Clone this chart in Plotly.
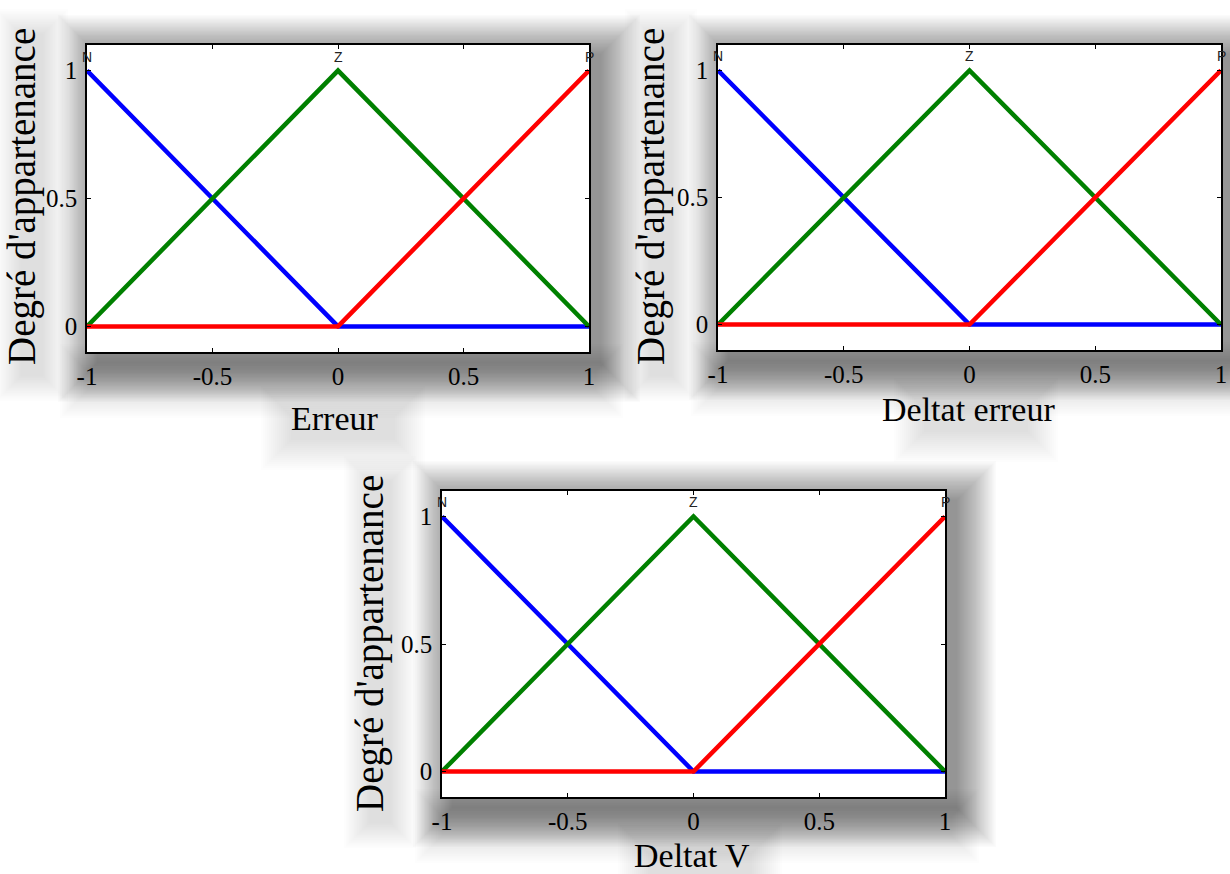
import plotly.graph_objects as go

W, H = 1230, 874

# ---- data ----
x_pts = [-1, 0, 1]
mf_N = [1, 0, 0]
mf_Z = [0, 1, 0]
mf_P = [0, 0, 1]
mf_names = ["N", "Z", "P"]
mf_peaks = [-1, 0, 1]
x_ticks = [-1, -0.5, 0, 0.5, 1]
x_ticktext = ["-1", "-0.5", "0", "0.5", "1"]
y_ticks = [0, 0.5, 1]
y_ticktext = ["0", "0.5", "1"]
x_titles = ["Erreur", "Deltat erreur", "Deltat V"]
y_title = "Degré d'appartenance"

colors = {"N": "#0000FF", "Z": "#008000", "P": "#FF0000"}

# plot boxes in pixels (x0, x1, y0_top, y1_bottom)
boxes = [(87, 589, 45, 352), (718, 1221, 45, 350), (442, 945, 491, 797)]
ytitle_pos = [(22, 197), (651, 197), (370, 644)]
xtitle_pos = [(335, 418), (968, 410), (692, 855)]

def px(x):
    return x / W

def py(y):
    return 1 - y / H

fig = go.Figure()
shapes = []
annotations = []

def shadow(x0, x1, y0, y1, dx, dy, blur, steps, alpha):
    out = []
    for i in range(steps):
        g = blur * (1 - i / steps)
        out.append(dict(type="rect", xref="paper", yref="paper",
                        x0=px(x0 + dx - g), x1=px(x1 + dx + g),
                        y0=py(y1 + dy + g), y1=py(y0 + dy - g),
                        line=dict(width=0), fillcolor=f"rgba(0,0,0,{alpha})",
                        layer="below"))
    return out

for k, (bx0, bx1, by0, by1) in enumerate(boxes):
    # soft shadow for the plot box
    shapes += shadow(bx0, bx1, by0, by1, 11, 10, 40, 30, 0.016)
    # light shadow for tick labels / titles
    shapes += shadow(bx0 - 5, bx1, by1 + 12, by1 + 30, 6, 8, 28, 16, 0.007)
    tx, ty = xtitle_pos[k]
    shapes += shadow(tx - 50, tx + 50, ty - 10, ty + 10, 8, 10, 32, 16, 0.008)
    yx, yy = ytitle_pos[k]
    shapes += shadow(yx - 8, yx + 12, yy - 170, yy + 170, 8, 8, 26, 16, 0.007)

for k, (bx0, bx1, by0, by1) in enumerate(boxes):
    # white plot area above the shadows
    shapes.append(dict(type="rect", xref="paper", yref="paper",
                       x0=px(bx0), x1=px(bx1), y0=py(by1), y1=py(by0),
                       line=dict(width=0), fillcolor="white", layer="below"))

for k, (bx0, bx1, by0, by1) in enumerate(boxes):
    n = "" if k == 0 else str(k + 1)
    xa, ya = "x" + n, "y" + n
    for name, vals in (("N", mf_N), ("Z", mf_Z), ("P", mf_P)):
        fig.add_trace(go.Scatter(x=x_pts, y=vals, mode="lines", xaxis=xa, yaxis=ya,
                                 line=dict(color=colors[name], width=4.5),
                                 showlegend=False, hoverinfo="skip"))
    axis_common = dict(showline=True, linecolor="black", linewidth=1.5, mirror="allticks",
                       ticks="inside", ticklen=4, tickwidth=1, tickcolor="black",
                       showgrid=False, zeroline=False, automargin=False,
                       tickfont=dict(family="Liberation Serif", size=25, color="black"))
    fig.layout["xaxis" + n] = dict(axis_common, domain=[px(bx0), px(bx1)], range=[-1, 1],
                                   tickvals=x_ticks, ticktext=x_ticktext, anchor=ya,
                                   ticklabelstandoff=1)
    fig.layout["yaxis" + n] = dict(axis_common, domain=[py(by1), py(by0)], range=[-0.1, 1.1],
                                   tickvals=y_ticks, ticktext=y_ticktext, anchor=xa,
                                   ticklabelstandoff=3)
    for name, peak in zip(mf_names, mf_peaks):
        annotations.append(dict(x=peak, y=1.055, xref=xa, yref=ya, text=name,
                                showarrow=False, xanchor="center", yanchor="middle",
                                font=dict(family="Liberation Sans", size=14, color="#222222")))
    tx, ty = xtitle_pos[k]
    annotations.append(dict(x=px(tx), y=py(ty), xref="paper", yref="paper",
                            text=x_titles[k], showarrow=False,
                            xanchor="center", yanchor="middle",
                            font=dict(family="Liberation Serif", size=34, color="black")))
    yx, yy = ytitle_pos[k]
    annotations.append(dict(x=px(yx), y=py(yy), xref="paper", yref="paper",
                            text=y_title, showarrow=False, textangle=-90,
                            xanchor="center", yanchor="middle",
                            font=dict(family="Liberation Serif", size=39, color="black")))

fig.update_layout(width=W, height=H, autosize=False,
                  margin=dict(l=0, r=0, t=0, b=0, autoexpand=False),
                  paper_bgcolor="white", plot_bgcolor="rgba(0,0,0,0)",
                  shapes=shapes, annotations=annotations)

fig.write_html("out.html", config={"displayModeBar": False},
               post_script="document.body.style.margin='0';document.body.style.overflow='hidden';")
